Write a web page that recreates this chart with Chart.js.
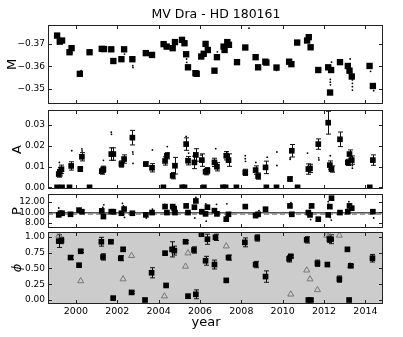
<!DOCTYPE html>
<html><head><meta charset="utf-8">
<script src="https://cdn.jsdelivr.net/npm/chart.js@4"></script>
<style>
html,body{margin:0;padding:0;background:#fff;}
#wrap{position:relative;width:403px;height:337px;overflow:hidden;}
canvas{position:absolute;left:0;}
</style></head><body><div id="wrap">
<canvas id="cM" width="403" height="125" style="top:0px"></canvas>
<canvas id="cA" width="403" height="120" style="top:90px"></canvas>
<canvas id="cP" width="403" height="74" style="top:174px"></canvas>
<canvas id="cF" width="403" height="125" style="top:212px"></canvas>
</div>
<script>
// ---------- data ----------
const chartTitle = 'MV Dra - HD 180161';
const xLabel = 'year';
const xTicks = [2000, 2002, 2004, 2006, 2008, 2010, 2012, 2014];
const mTicks = [-0.37, -0.36, -0.35];
const aTicks = [0.00, 0.01, 0.02, 0.03];
const pTicks = [8, 10, 12];
const phiTicks = [0.00, 0.25, 0.50, 0.75, 1.00];

const mYears = [1999.09,1999.22,1999.33,1999.69,1999.79,2000.19,2000.66,2001.25,2001.36,2001.71,2001.81,2002.20,2002.33,2002.73,2003.38,2003.68,2004.24,2004.39,2004.68,2004.79,2005.13,2005.25,2005.33,2005.42,2005.78,2005.84,2006.06,2006.18,2006.27,2006.38,2006.70,2006.82,2007.14,2007.19,2007.32,2007.40,2007.79,2008.19,2008.69,2008.81,2009.16,2009.21,2009.70,2010.31,2010.42,2010.70,2011.18,2011.26,2011.35,2011.72,2012.20,2012.34,2012.29,2012.77,2013.15,2013.23,2013.34,2014.20,2014.36];
const mValues = [-0.3737,-0.3710,-0.3715,-0.3663,-0.3681,-0.3567,-0.3663,-0.3678,-0.3677,-0.3676,-0.3624,-0.3632,-0.3676,-0.3632,-0.3659,-0.3651,-0.3699,-0.3688,-0.3681,-0.3708,-0.3718,-0.3703,-0.3654,-0.3596,-0.3570,-0.3567,-0.3644,-0.3656,-0.3700,-0.3673,-0.3581,-0.3641,-0.3688,-0.3673,-0.3708,-0.3696,-0.3619,-0.3684,-0.3641,-0.3596,-0.3621,-0.3617,-0.3595,-0.3621,-0.3610,-0.3706,-0.3715,-0.3730,-0.3685,-0.3584,-0.3596,-0.3584,-0.3484,-0.3619,-0.3602,-0.3581,-0.3555,-0.3602,-0.3513];
const mDotYears = [1999.15,1999.80,2000.25,2002.35,2002.75,2002.76,2005.35,2005.36,2006.84,2007.35,2008.37,2009.70,2012.30,2012.30,2012.31,2012.36,2013.26,2013.37,2013.37,2013.37,2013.37,2014.25,2014.40,2011.80,2004.45];
const mDotValues = [-0.3722,-0.3660,-0.3581,-0.3655,-0.3603,-0.3595,-0.3633,-0.3618,-0.3665,-0.3718,-0.3770,-0.3582,-0.3542,-0.3530,-0.3518,-0.3619,-0.3633,-0.3540,-0.3525,-0.3510,-0.3495,-0.3578,-0.3492,-0.3575,-0.3680];

const aYears = [1999.17,1999.22,1999.30,1999.77,2000.21,2000.29,2001.25,2001.33,2001.71,2001.81,2002.20,2002.33,2002.73,2003.38,2003.68,2004.31,2004.40,2004.68,2004.79,2005.33,2005.42,2005.73,2005.80,2006.09,2006.27,2006.36,2006.70,2006.82,2007.27,2007.38,2008.19,2008.69,2008.81,2009.17,2010.35,2010.44,2011.24,2011.32,2011.72,2012.20,2012.28,2012.36,2012.77,2013.15,2013.23,2013.34,2014.36];
const aValues = [0.0064,0.0075,0.0087,0.0103,0.0088,0.0147,0.0078,0.0087,0.0160,0.0160,0.0112,0.0136,0.0239,0.0112,0.0094,0.0127,0.0152,0.0056,0.0104,0.0208,0.0128,0.0120,0.0156,0.0131,0.0075,0.0080,0.0120,0.0099,0.0152,0.0131,0.0072,0.0083,0.0054,0.0096,0.0040,0.0176,0.0088,0.0091,0.0208,0.0311,0.0107,0.0088,0.0231,0.0120,0.0160,0.0131,0.0131];
const aErrors = [0.0015,0.002,0.002,0.002,0.0012,0.002,0.0015,0.0015,0.003,0.003,0.0015,0.002,0.0035,0.001,0.002,0.002,0.0015,0.0015,0.004,0.003,0.002,0.003,0.003,0.003,0.0015,0.0015,0.002,0.002,0.002,0.003,0.0015,0.002,0.0015,0.003,0.001,0.003,0.0025,0.002,0.0025,0.0055,0.002,0.0015,0.0035,0.0015,0.002,0.002,0.0025];
const aZeroYears = [1999.09,1999.33,1999.69,2000.66,2004.23,2005.14,2005.25,2006.19,2007.11,2007.24,2007.76,2009.21,2009.70,2010.72,2014.21];
const aZeroValues = [0,0,0,0,0,0,0,0,0,0,0,0,0,0,0];
const aDotYears = [1999.20,1999.80,2000.29,2000.30,2000.20,2001.33,2001.71,2001.72,2002.33,2002.75,2002.76,2002.76,2003.70,2004.42,2005.33,2005.45,2006.05,2006.76,2007.30,2008.19,2008.19,2008.20,2008.70,2009.25,2009.72,2009.72,2010.36,2010.36,2011.20,2011.74,2011.75,2013.37,2013.37,2012.38,2012.30];
const aDotValues = [0.0120,0.0176,0.0185,0.0175,0.0084,0.0130,0.0265,0.0255,0.0125,0.0170,0.0160,0.0115,0.0180,0.0196,0.0245,0.0165,0.0155,0.0186,0.0170,0.0152,0.0138,0.0125,0.0120,0.0145,0.0170,0.0105,0.0142,0.0135,0.0165,0.0142,0.0132,0.0092,0.0105,0.0088,0.0152];

const pYears = [1999.17,1999.25,1999.33,1999.74,2000.15,2000.29,2001.25,2001.33,2001.71,2001.81,2002.20,2002.33,2002.73,2003.38,2003.68,2004.31,2004.40,2004.68,2004.75,2004.79,2005.33,2005.42,2005.73,2005.80,2006.09,2006.27,2006.36,2006.70,2006.82,2007.27,2007.38,2008.19,2008.69,2008.81,2009.17,2010.35,2010.44,2011.24,2011.32,2011.40,2011.72,2012.20,2012.28,2012.36,2012.77,2013.15,2013.23,2013.34,2014.36];
const pValues = [9.49,9.8,9.8,9.6,10.4,10.1,10.25,9.17,10.1,10.1,9.8,10.6,9.8,9.49,9.93,11.07,9.93,11.07,10.7,9.93,11.2,9.93,10.95,12.15,10.1,9.68,10.95,10.3,9.68,8.67,9.6,11.07,9.35,9.6,10.57,11.2,9.6,9.93,9.49,11.2,8.67,9.49,11.07,12.67,9.93,10.1,11.2,10.76,10.1];
const pDotYears = [1999.17,2001.30,2001.35,2002.25,2002.30,2002.35,2003.40,2003.70,2004.30,2005.35,2005.80,2006.30,2006.35,2006.80,2007.25,2007.30,2008.20,2008.85,2010.40,2011.30,2011.35,2012.20,2012.22,2012.30,2012.35,2013.20,2014.40,2005.75,2006.28];
const pDotValues = [10.8,10.9,11.4,11.7,11.2,9.0,8.9,10.6,11.5,11.6,12.8,8.3,11.3,11.5,9.2,11.6,11.4,10.3,11.8,10.8,8.6,12.0,11.5,9.0,8.5,12.0,8.9,8.9,11.6];
const pSolidLevel = 9.9;
const pDashedLevel = 9.6;

const phiYears = [1999.17,1999.30,1999.74,2000.15,2000.23,2001.23,2001.31,2001.69,2001.80,2002.17,2002.28,2002.69,2003.34,2003.66,2004.31,2004.36,2004.65,2004.76,2005.30,2005.42,2005.71,2005.80,2006.07,2006.27,2006.36,2006.70,2006.75,2007.27,2007.38,2008.17,2008.69,2008.77,2009.17,2010.31,2010.39,2011.16,2011.24,2011.36,2011.68,2012.16,2012.26,2012.34,2012.74,2013.13,2013.21,2013.29,2014.34];
const phiValues = [0.93,0.94,0.67,0.55,0.77,0.92,0.68,0.92,0.03,0.66,0.80,0.12,0.00,0.43,0.74,0.23,0.80,0.78,0.92,0.06,0.79,0.09,1.04,0.62,0.96,0.56,0.99,0.31,0.67,0.91,0.56,0.98,0.37,0.65,0.69,0.95,0.00,0.00,0.58,0.56,0.96,0.96,0.33,0.80,0.00,0.54,0.66];
const phiErrors = [0.1,0.05,0.03,0.02,0.02,0.07,0.05,0.02,0.02,0.04,0.03,0.02,0.02,0.08,0.02,0.02,0.12,0.07,0.02,0.03,0.05,0.07,0.02,0.07,0.08,0.07,0.05,0.02,0.04,0.07,0.05,0.05,0.09,0.05,0.02,0.05,0.02,0.02,0.05,0.02,0.05,0.07,0.05,0.02,0.02,0.02,0.06];
const triYears = [1999.17,2000.23,2002.28,2002.69,2004.28,2005.30,2005.42,2007.27,2010.39,2011.16,2011.32,2011.68,2012.13,2012.25,2012.74,2013.26];
const triValues = [1.02,0.30,0.33,0.70,0.06,0.53,0.74,0.85,0.09,0.47,0.33,0.16,1.02,1.02,1.02,0.54];

// ---------- helpers ----------
const xMin = 1998.65, xMax = 2014.85;
const FONT = 'DejaVu Sans';
Chart.defaults.font.family = FONT;
Chart.defaults.color = '#000';
const pts = (xs, ys) => xs.map((x, i) => ({x: x, y: ys[i]}));

const panelDeco = {
  id: 'panelDeco',
  beforeDatasetsDraw(chart, args, opts) {
    const {ctx, chartArea: a, scales} = chart;
    ctx.save();
    if (opts.bg) { ctx.fillStyle = opts.bg; ctx.fillRect(a.left, a.top, a.right - a.left, a.bottom - a.top); }
    ctx.beginPath(); ctx.rect(a.left, a.top, a.right - a.left, a.bottom - a.top); ctx.clip();
    chart.data.datasets.forEach(ds => {
      if (!ds.errors) return;
      ctx.strokeStyle = ds.errorColor || '#111'; ctx.lineWidth = 1;
      ds.data.forEach((p, j) => {
        const e = ds.errors[j]; if (!e) return;
        const x = Math.round(scales.x.getPixelForValue(p.x)) + 0.5;
        const y1 = scales.y.getPixelForValue(p.y - e), y2 = scales.y.getPixelForValue(p.y + e);
        ctx.beginPath();
        ctx.moveTo(x, y1); ctx.lineTo(x, y2);
        ctx.moveTo(x - 2.5, y1); ctx.lineTo(x + 2.5, y1);
        ctx.moveTo(x - 2.5, y2); ctx.lineTo(x + 2.5, y2);
        ctx.stroke();
      });
    });
    ctx.restore();
  },
  afterDraw(chart, args, opts) {
    const {ctx, chartArea: a, scales} = chart;
    ctx.save();
    ctx.strokeStyle = '#222'; ctx.lineWidth = 1;
    ctx.strokeRect(a.left + 0.5, a.top + 0.5, a.right - a.left - 1, a.bottom - a.top - 1);
    ctx.beginPath();
    xTicks.forEach(v => {
      const px = Math.round(scales.x.getPixelForValue(v)) + 0.5;
      ctx.moveTo(px, a.top); ctx.lineTo(px, a.top + 4);
      ctx.moveTo(px, a.bottom); ctx.lineTo(px, a.bottom - 4);
    });
    (opts.yTicks || []).forEach(v => {
      const py = Math.round(scales.y.getPixelForValue(v)) + 0.5;
      ctx.moveTo(a.left, py); ctx.lineTo(a.left + 4, py);
      ctx.moveTo(a.right, py); ctx.lineTo(a.right - 4, py);
    });
    ctx.stroke();
    (opts.texts || []).forEach(t => {
      ctx.font = t.font; ctx.fillStyle = '#000'; ctx.textAlign = 'center'; ctx.textBaseline = 'middle';
      ctx.fillText(t.text, t.x, t.y);
    });
    ctx.restore();
  }
};
Chart.register(panelDeco);

function makePanel(id, cfg) {
  const xFont = {family: FONT, size: 9.5};
  const yFont = {family: FONT, size: 9};
  return new Chart(document.getElementById(id), {
    type: 'scatter',
    data: {datasets: cfg.datasets},
    options: {
      responsive: false, animation: false, events: [],
      layout: {padding: {left: 0, right: 20, top: cfg.padTop, bottom: cfg.padBottom}},
      plugins: {
        legend: {display: false}, tooltip: {enabled: false},
        panelDeco: {bg: cfg.bg, yTicks: cfg.yTicks, texts: cfg.texts || []}
      },
      scales: {
        x: {
          type: 'linear', min: xMin, max: xMax,
          grid: {display: false, drawTicks: false}, border: {display: false},
          ticks: {display: !!cfg.bottom, padding: 2, font: xFont, color: '#000', autoSkip: false, maxRotation: 0,
                  callback: v => String(v)},
          afterBuildTicks: s => { s.ticks = xTicks.map(v => ({value: v})); },
          afterFit: s => { s.height = cfg.bottom ? 33 : 0; }
        },
        y: {
          type: 'linear', min: cfg.yMin, max: cfg.yMax, reverse: !!cfg.reverse,
          grid: {display: false, drawTicks: false}, border: {display: false},
          ticks: {padding: 3, font: yFont, color: '#000', callback: cfg.fmt},
          afterBuildTicks: s => { s.ticks = cfg.yTicks.map(v => ({value: v})); },
          afterFit: s => { s.width = 48; },
          title: {display: true, text: cfg.yTitle, color: '#000',
                  font: {family: FONT, size: 13, style: cfg.titleStyle || 'normal'},
                  padding: {top: cfg.titlePad, bottom: 0}}
        }
      }
    }
  });
}

const sq = (data, r, extra) => Object.assign({data: data, pointStyle: 'rect', pointRadius: r, backgroundColor: '#000', borderColor: '#000', borderWidth: 0}, extra || {});
const dots = data => ({data: data, pointStyle: 'circle', pointRadius: 0.9, backgroundColor: '#000', borderWidth: 0});
const fmt2 = v => (v < 0 ? '\u2212' : '') + Math.abs(v).toFixed(2);

makePanel('cM', {
  padTop: 25, padBottom: 21, yMin: -0.3784, yMax: -0.3433, reverse: true,
  yTicks: mTicks, fmt: fmt2, yTitle: 'M', titlePad: 5,
  texts: [{text: chartTitle, x: 216, y: 15, font: '12.5px "DejaVu Sans"'}],
  datasets: [sq(pts(mYears, mValues), 4.5), dots(pts(mDotYears, mDotValues))]
});

makePanel('cA', {
  padTop: 20, padBottom: 21, yMin: -0.0008, yMax: 0.0372,
  yTicks: aTicks, fmt: fmt2, yTitle: 'A', titlePad: 10,
  datasets: [sq(pts(aYears, aValues), 4, {errors: aErrors}), sq(pts(aZeroYears, aZeroValues), 4), dots(pts(aDotYears, aDotValues))]
});

makePanel('cP', {
  padTop: 20, padBottom: 20, yMin: 6.99, yMax: 13.47,
  yTicks: pTicks, fmt: fmt2, yTitle: 'P', titlePad: 10,
  datasets: [
    sq(pts(pYears, pValues), 4),
    dots(pts(pDotYears, pDotValues)),
    {type: 'line', data: [{x: xMin, y: pSolidLevel}, {x: xMax, y: pSolidLevel}], borderColor: '#555', borderWidth: 1.5, pointRadius: 0},
    {type: 'line', data: [{x: xMin, y: pDashedLevel}, {x: xMax, y: pDashedLevel}], borderColor: '#999', borderWidth: 1.5, borderDash: [5, 3], pointRadius: 0}
  ]
});

makePanel('cF', {
  padTop: 20, padBottom: 0, yMin: -0.063, yMax: 1.074, bottom: true, bg: '#cccccc',
  yTicks: phiTicks, fmt: fmt2, yTitle: '\u03d5', titleStyle: 'italic', titlePad: 10,
  texts: [{text: xLabel, x: 206, y: 111, font: '13px "DejaVu Sans"'}],
  datasets: [
    sq(pts(phiYears, phiValues), 4, {errors: phiErrors}),
    {data: pts(triYears, triValues), pointStyle: 'triangle', pointRadius: 3.5, backgroundColor: 'rgba(0,0,0,0)', borderColor: '#777', borderWidth: 1}
  ]
});
</script>
</body></html>
